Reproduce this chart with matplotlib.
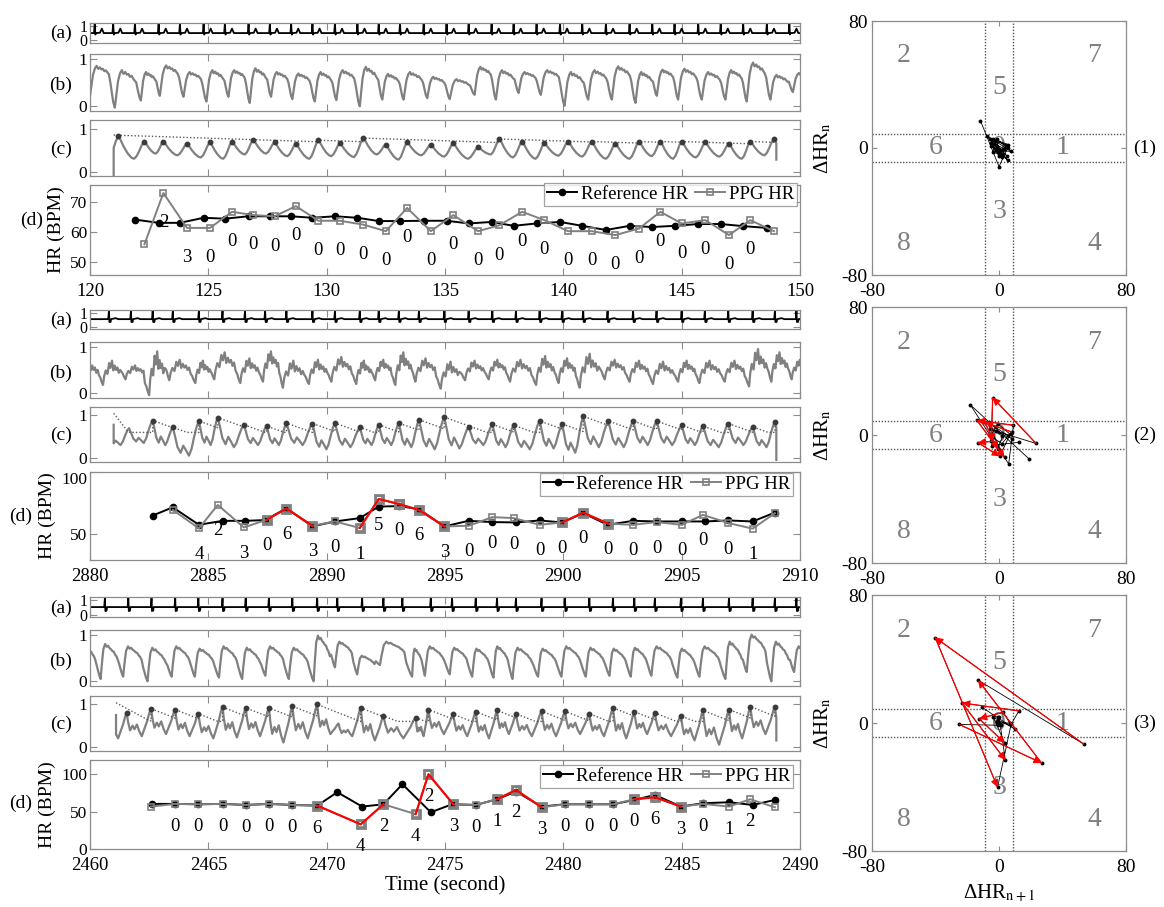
import numpy as np
import matplotlib
matplotlib.use('Agg')
import matplotlib.pyplot as plt

W, H = 1164, 907
GRAY = '#808080'
EDGE = '#8c8c8c'

plt.rcParams['font.family'] = ['Liberation Serif', 'DejaVu Serif']
plt.rcParams['mathtext.fontset'] = 'stix'
plt.rcParams['axes.unicode_minus'] = False

# ---------------- segment 1 (120-150 s) ----------------
g1_ref_t = [121.9, 122.9, 123.8, 124.8, 125.7, 126.7, 127.6, 128.5, 129.4, 130.35,
            131.3, 132.2, 133.1, 134.1, 135.07, 136.0, 136.97, 137.9, 138.87, 139.86,
            140.8, 141.8, 142.8, 143.76, 144.7, 145.7, 146.65, 147.6, 148.6]
g1_ref_hr = [64.1, 63.0, 63.0, 64.7, 64.4, 65.2, 65.2, 65.2, 64.7, 65.2,
             64.7, 63.6, 63.6, 63.7, 63.7, 62.8, 63.3, 62.0, 62.8, 63.3,
             62.0, 60.6, 62.0, 61.6, 62.0, 62.6, 62.6, 61.9, 61.3]
g1_ppg_t = [122.3, 123.1, 124.1, 125.07, 126.0, 126.9, 127.8, 128.7, 129.65, 130.56,
            131.55, 132.5, 133.4, 134.4, 135.35, 136.4, 137.3, 138.26, 139.2, 140.2,
            141.2, 142.2, 143.2, 144.1, 145.0, 146.0, 147.0, 147.9, 148.9]
g1_ppg_hr = [55.8, 73.0, 61.3, 61.3, 66.7, 65.6, 65.2, 68.6, 63.7, 63.7,
             62.4, 60.2, 68.0, 60.2, 65.6, 60.2, 62.2, 66.7, 63.9, 60.2,
             60.2, 58.9, 61.1, 66.7, 62.8, 63.9, 58.9, 63.9, 60.2]
g1_labels = '230000000000000000000000000'
g1_red = []
g1_ecg_extra = [120.2, 120.98, 149.55]
# filtered PPG peaks: first detected peak, then one per PPG HR sample
g1_pk_first = (121.2, 0.82)
g1_pk_v = [0.70, 0.70, 0.65, 0.68, 0.70, 0.74, 0.68, 0.65, 0.73, 0.66,
           0.78, 0.63, 0.68, 0.63, 0.66, 0.57, 0.76, 0.70, 0.66, 0.70,
           0.70, 0.65, 0.70, 0.70, 0.70, 0.68, 0.65, 0.70, 0.76]
g1_pk_extra_t = [120.15, 149.85]
g1_pk_extra_v = [0.70, 0.70]
g1_c_lo = [0.30, 0.30, 0.42, 0.38, 0.33, 0.30, 0.40, 0.42, 0.36, 0.30, 0.36,
           0.34, 0.40, 0.28, 0.38, 0.35, 0.30, 0.40, 0.33, 0.30, 0.37, 0.35,
           0.30, 0.30, 0.36, 0.30, 0.33, 0.35, 0.30, 0.38, 0.30]
g1_b_lo = [0.22, -0.03, 0.12, 0.22, 0.20, 0.10, 0.20, 0.07, 0.20, 0.15, 0.10,
           0.13, 0.00, 0.14, 0.14, 0.17, 0.15, 0.24, 0.14, 0.28, 0.24, 0.01,
           0.14, 0.14, 0.07, 0.22, 0.14, 0.14, 0.14, 0.10, 0.14, 0.30]
g1_b_hi = [0.85, 0.76, 0.72, 0.86, 0.72, 0.76, 0.76, 0.80, 0.72, 0.69, 0.72,
           0.76, 0.83, 0.68, 0.72, 0.62, 0.57, 0.83, 0.76, 0.72, 0.76, 0.72,
           0.76, 0.84, 0.72, 0.77, 0.79, 0.72, 0.76, 0.92, 0.66, 0.70]

# ---------------- segment 2 (2880-2910 s) ----------------
g2_ref_t = [2882.65, 2883.5, 2884.6, 2885.6, 2886.55, 2887.4, 2888.3, 2889.4, 2890.35, 2891.4,
            2892.2, 2893.05, 2893.9, 2894.97, 2896.0, 2897.0, 2898.0, 2899.0, 2899.95, 2900.84,
            2901.87, 2902.95, 2903.94, 2905.0, 2905.98, 2906.97, 2908.0, 2908.94]
g2_ref_hr = [64.9, 71.5, 57.4, 60.6, 60.6, 61.2, 70.7, 56.1, 60.1, 62.8,
             72.1, 72.5, 70.0, 56.1, 60.6, 59.6, 59.3, 60.9, 59.3, 66.8,
             57.4, 60.6, 60.1, 60.1, 60.1, 60.9, 60.1, 67.3]
g2_ppg_t = [2883.5, 2884.6, 2885.4, 2886.5, 2887.46, 2888.3, 2889.4, 2890.35, 2891.4, 2892.2,
            2893.05, 2893.9, 2894.97, 2896.0, 2897.0, 2897.9, 2899.0, 2899.95, 2900.84, 2901.9,
            2902.95, 2903.94, 2905.0, 2905.9, 2906.97, 2908.0, 2908.94]
g2_ppg_hr = [69.4, 54.5, 73.4, 55.3, 61.4, 70.5, 56.6, 60.1, 54.8, 78.2,
             74.2, 69.4, 56.1, 56.6, 63.6, 62.8, 57.4, 59.3, 67.2, 58.3,
             57.4, 59.6, 57.4, 65.4, 58.8, 54.3, 66.8]
g2_labels = '4230630150630000000000001'
g2_red = [5, 9, 11, 18]
g2_ecg_extra = [2880.8, 2881.73, 2909.85]
g2_pk_first = (2882.65, 0.88)
g2_pk_v = [0.72, 0.87, 0.95, 0.78, 0.75, 0.82, 0.81, 0.82, 0.72, 0.78,
           0.82, 0.90, 0.96, 0.73, 0.79, 0.77, 0.87, 0.80, 0.98, 0.87,
           0.87, 0.87, 0.77, 0.75, 0.81, 0.73, 0.85]
g2_pk_extra_t = [2880.7, 2881.65, 2909.8]
g2_pk_extra_v = [0.60, 0.70, 0.70]
g2_c_lo = [0.30, 0.35, 0.30, 0.05, 0.30, 0.25, 0.30, 0.30, 0.30, 0.20,
           0.25, 0.30, 0.30, 0.25, 0.20, 0.22, 0.30, 0.25, 0.20, 0.22,
           0.12, 0.25, 0.25, 0.30, 0.30, 0.30, 0.25, 0.30, 0.25, 0.30]
g2_b_lo = [0.18, 0.30, -0.04, 0.28, 0.22, 0.30, 0.22, 0.25, 0.12, 0.20, 0.25,
           0.20, 0.28, 0.18, 0.25, 0.10, 0.28, 0.30, 0.25, 0.18, 0.22, 0.12,
           0.30, 0.25, 0.20, 0.25, 0.22, 0.25, 0.15, 0.25, 0.30]
g2_b_hi = [0.70, 0.60, 0.90, 0.72, 0.70, 0.88, 0.75, 0.90, 0.70, 0.72, 0.78,
           0.70, 0.72, 0.88, 0.75, 0.68, 0.70, 0.72, 0.72, 0.80, 0.75, 0.85,
           0.72, 0.70, 0.68, 0.70, 0.70, 0.70, 0.95, 0.88, 0.72]

# ---------------- segment 3 (2460-2490 s) ----------------
g3_ref_t = [2462.6, 2463.6, 2464.58, 2465.6, 2466.58, 2467.56, 2468.55, 2469.6, 2470.45, 2471.5,
            2472.4, 2473.2, 2474.4, 2475.3, 2476.3, 2477.2, 2478.0, 2479.08, 2480.07, 2481.1,
            2482.1, 2483.0, 2483.87, 2484.97, 2485.9, 2487.0, 2488.0, 2488.94]
g3_ref_hr = [60.3, 60.3, 59.8, 60.3, 58.9, 60.3, 58.9, 58.0, 75.9, 56.7,
             59.8, 86.6, 49.1, 59.8, 58.9, 66.5, 76.8, 56.7, 59.8, 59.8,
             59.8, 65.6, 72.3, 56.7, 61.2, 62.5, 58.9, 65.6]
g3_ppg_t = [2462.58, 2463.6, 2464.58, 2465.6, 2466.58, 2467.56, 2468.55, 2469.6, 2471.44, 2472.4,
            2473.76, 2474.3, 2475.35, 2476.3, 2477.2, 2478.0, 2479.08, 2480.07, 2481.1, 2482.1,
            2483.0, 2483.87, 2484.97, 2485.9, 2487.0, 2487.9, 2488.94]
g3_ppg_hr = [56.7, 60.3, 59.8, 60.3, 58.9, 60.3, 58.9, 58.0, 33.0, 59.8,
             46.6, 100.0, 59.8, 58.9, 66.5, 79.0, 55.8, 59.8, 59.8, 59.8,
             66.5, 69.2, 56.7, 60.3, 56.7, 66.5, 55.8]
g3_labels = '0000006424230123000063012'
g3_red = [8, 11, 15, 21]
g3_ecg_extra = [2460.63, 2461.62, 2489.85]
g3_pk_first = (2461.55, 0.80)
g3_pk_v = [0.90, 0.88, 0.78, 0.94, 0.92, 0.92, 0.96, 1.00, 0.92, 0.73,
           0.69, 0.88, 0.77, 0.83, 0.86, 0.78, 0.84, 0.84, 0.78, 0.92,
           0.83, 0.80, 0.73, 0.86, 0.88, 0.95, 0.94]
g3_pk_extra_t = [2460.6, 2470.5, 2489.9]
g3_pk_extra_v = [0.70, 0.55, 0.70]
g3_c_lo = [0.20, 0.25, 0.30, 0.25, 0.20, 0.22, 0.25, 0.10, 0.20, 0.30,
           0.25, 0.15, 0.20, 0.25, 0.30, 0.25, 0.20, 0.30, 0.25, 0.25,
           0.30, 0.25, 0.20, 0.30, 0.25, 0.15, 0.05, 0.20, 0.30, 0.30]
g3_b_lo = [0.05, 0.10, 0.00, 0.10, 0.10, 0.08, 0.05, 0.12, 0.05, 0.00, 0.30,
           0.15, 0.35, 0.10, 0.12, 0.15, 0.10, 0.08, 0.05, 0.10, 0.10, 0.10,
           0.12, 0.10, 0.12, 0.08, 0.10, 0.05, 0.20, 0.00, 0.20]
g3_b_hi = [0.80, 0.75, 0.72, 0.75, 0.70, 0.75, 0.72, 0.75, 0.72, 0.98, 0.85,
           0.55, 0.85, 0.70, 0.75, 0.72, 0.70, 0.75, 0.72, 0.70, 0.75, 0.72,
           0.70, 0.72, 0.75, 0.70, 0.75, 0.85, 1.00, 0.85, 0.75]

# beat shapes (seconds from R peak / fraction of beat)
g1_ecg_dt = [-0.03, 0.0, 0.025, 0.06, 0.22, 0.30, 0.38]
g1_ecg_v = [0.50, 1.15, 0.40, 0.50, 0.52, 0.80, 0.50]
g2_ecg_dt = [-0.03, 0.0, 0.02, 0.07, 0.09, 0.28, 0.40]
g2_ecg_v = [0.55, 1.15, 0.35, 0.35, 0.55, 0.62, 0.55]
g3_ecg_dt = [-0.03, 0.0, 0.02, 0.07, 0.09]
g3_ecg_v = [0.52, 1.12, 0.25, 0.28, 0.52]

b_phase = [0, 0.05, 0.12, 0.2, 0.27, 0.33, 0.4, 0.46, 0.52, 0.58, 0.64, 0.7, 0.76, 0.82, 0.88, 0.94]
g1_b_shape = [0, 0.3, 0.7, 0.92, 1.0, 0.9, 0.95, 0.88, 0.9, 0.82, 0.85, 0.78, 0.72, 0.6, 0.35, 0.12]
g2_b_shape = [0, 0.35, 0.6, 0.45, 0.9, 0.7, 1.0, 0.6, 0.8, 0.62, 0.72, 0.5, 0.62, 0.4, 0.3, 0.12]
g3_b_shape = [0, 0.4, 0.85, 1.0, 0.92, 0.95, 0.88, 0.85, 0.8, 0.78, 0.7, 0.65, 0.55, 0.4, 0.25, 0.1]

g1_c_phase = [0, 0.08, 0.2, 0.35, 0.5, 0.6, 0.7, 0.8, 0.9]
g1_c_shape = [1, 0.85, 0.55, 0.25, 0.05, 0, 0.15, 0.45, 0.8]
g2_c_phase = [0, 0.08, 0.18, 0.3, 0.4, 0.5, 0.62, 0.72, 0.82, 0.92]
g2_c_shape = [1, 0.7, 0.3, 0.1, 0.35, 0.2, 0, 0.2, 0.55, 0.85]
g3_c_phase = [0, 0.06, 0.14, 0.24, 0.32, 0.42, 0.52, 0.62, 0.72, 0.84, 0.93]
g3_c_shape = [1, 0.6, 0.25, 0.45, 0.3, 0.5, 0.2, 0, 0.25, 0.55, 0.85]

REGION_POS = {'2': (-60, 58), '7': (60, 58), '5': (0, 38), '6': (-40, 0), '0': (0, 0),
              '1': (40, 0), '3': (0, -40), '8': (-60, -60), '4': (60, -60)}
THR = 9


def rect(x0, y0, x1, y1):
    return [x0 / W, 1 - y1 / H, (x1 - x0) / W, (y1 - y0) / H]


def style(ax, xlim, ylim, yticks, xlabels=False, ysize=12.5):
    ax.set_xlim(xlim)
    ax.set_ylim(ylim)
    ax.set_xticks(np.arange(xlim[0], xlim[1] + 1, 5))
    ax.set_yticks(yticks)
    for s in ax.spines.values():
        s.set_color(EDGE)
        s.set_linewidth(0.9)
    ax.tick_params(direction='in', top=True, right=True, length=5, width=0.8,
                   color=EDGE, labelsize=13.5, labelcolor='black')
    ax.tick_params(axis='y', pad=2, labelsize=ysize)
    ax.tick_params(axis='x', pad=6)
    if not xlabels:
        ax.set_xticklabels([])


def ecg_trace(beats, dt, v, xlim):
    t, y = [xlim[0]], [v[0]]
    for b in sorted(beats):
        t += [b + d for d in dt]
        y += list(v)
    t.append(xlim[1])
    y.append(v[-1])
    return t, y


def raw_ppg(troughs, lo, hi, phase, shape, split=0.8):
    tt = [troughs[0] - (troughs[1] - troughs[0])] + list(troughs) + \
         [troughs[-1] + (troughs[-1] - troughs[-2])]
    lo = [lo[0]] + list(lo) + [lo[-1]]
    hi = [hi[0]] + list(hi) + [hi[-1]]
    t, y = [], []
    for k in range(len(tt) - 1):
        for ph, s in zip(phase, shape):
            base = lo[k] if ph < split else lo[k + 1]
            t.append(tt[k] + ph * (tt[k + 1] - tt[k]))
            y.append(base + (hi[k] - base) * s)
    return np.array(t), np.array(y)


def filt_ppg(pk_t, pk_v, lo, phase, shape, split):
    t, y = [], []
    for k in range(len(pk_t) - 1):
        for ph, s in zip(phase, shape):
            top = pk_v[k] if ph < split else pk_v[k + 1]
            t.append(pk_t[k] + ph * (pk_t[k + 1] - pk_t[k]))
            y.append(lo[k] + (top - lo[k]) * s)
    t.append(pk_t[-1])
    y.append(pk_v[-1])
    return np.array(t), np.array(y)


def envelope(init, pk_t, pk_v, t_end, rate, floor):
    # adaptive peak threshold: jumps to a new peak, then decays linearly to a floor
    et = [p[0] for p in init]
    ev = [p[1] for p in init]
    t0, lev = et[-1], ev[-1]

    def level(t):
        return max(lev - rate * (t - t0), floor)

    def corner(upto):
        tf = t0 + (lev - floor) / rate
        if et[-1] < tf < upto:
            et.append(tf)
            ev.append(floor)

    for tp, vp in zip(pk_t, pk_v):
        if tp <= t0:
            continue
        corner(tp)
        cur = level(tp)
        if vp > cur:
            et += [tp, tp]
            ev += [cur, vp]
            t0, lev = tp, vp
    corner(t_end)
    et.append(t_end)
    ev.append(level(t_end))
    return et, ev


def draw_group(fig, g):
    xlim = g['xlim']
    (ya, yb, yc, yd) = g['rows']

    # (a) ECG
    ax = fig.add_axes(rect(90, ya[0], 800, ya[1]))
    t, y = ecg_trace(g['ref_t'] + g['ecg_extra'], g['ecg_dt'], g['ecg_v'], xlim)
    ax.plot(t, y, color='k', lw=1.3)
    style(ax, xlim, (-0.15, 1.2), [0, 1], ysize=11.5)

    # (b) raw PPG
    pk = sorted(zip([g['pk_first'][0]] + g['ppg_t'] + g['pk_extra_t'],
                    [g['pk_first'][1]] + g['pk_v'] + g['pk_extra_v']))
    pk_t = [p[0] for p in pk]
    pk_v = [p[1] for p in pk]
    ax = fig.add_axes(rect(90, yb[0], 800, yb[1]))
    t, y = raw_ppg([p - 0.15 for p in pk_t], g['b_lo'], g['b_hi'], b_phase, g['b_shape'])
    ax.plot(t, y, color=GRAY, lw=1.6)
    style(ax, xlim, (-0.1, 1.1), [0, 1])

    # (c) filtered PPG with detected peaks and threshold
    ax = fig.add_axes(rect(90, yc[0], 800, yc[1]))
    t, y = filt_ppg(pk_t, pk_v, g['c_lo'], g['c_phase'], g['c_shape'], g['c_split'])
    c0, c1 = g['c_span']
    keep = (t > c0) & (t < c1)
    ct = np.concatenate([[c0, c0], t[keep], [c1, c1]])
    cv = np.concatenate([[g['c_ends'][0], np.interp(c0, t, y)], y[keep],
                         [np.interp(c1, t, y), g['c_ends'][1]]])
    ax.plot(ct, cv, color=GRAY, lw=1.6)
    det_t = [g['pk_first'][0]] + g['ppg_t']
    det_v = [g['pk_first'][1]] + g['pk_v']
    et, ev = envelope(g['env_init'], det_t, det_v, c1, g['env_rate'], g['env_floor'])
    ax.plot(et, ev, color='#5a5a5a', lw=1.0, ls=(0, (1, 1.5)))
    ax.plot(det_t, det_v, 'o', color='#3a3a3a', ms=3.2, zorder=5)
    style(ax, xlim, (-0.1, 1.2), [0, 1])

    # (d) heart rate
    ax = fig.add_axes(rect(90, yd[0], 800, yd[1]))
    ppg_t = np.array(g['ppg_t'])
    ppg_hr = np.array(g['ppg_hr'])
    ax.plot(g['ref_t'], g['ref_hr'], '-o', color='k', lw=1.4, ms=4.5, label='Reference HR', zorder=3)
    ax.plot(ppg_t, ppg_hr, '-s', color=GRAY, mfc='none', mec=GRAY, lw=1.4, ms=4.8, mew=1.2,
            label='PPG HR', zorder=4)
    for c in g['red']:
        ax.plot(ppg_t[c - 1:c + 2], ppg_hr[c - 1:c + 2], 's', ms=6, mfc='none', mec=GRAY,
                mew=2.0, zorder=5)
        ax.plot(ppg_t[c - 1:c + 2], ppg_hr[c - 1:c + 2], color='red', lw=1.5, zorder=6)
    for i, d in enumerate(g['labels'], start=1):
        ax.text(ppg_t[i], ppg_hr[i] - g['lab_off'], d, ha='center', va='center', fontsize=13.5)
    style(ax, xlim, g['hr_ylim'], g['hr_ticks'], xlabels=True)
    if g['hr_ticks'][-1] == g['hr_ylim'][1]:
        ax.get_yticklabels()[-1].set_va('top')
    leg = ax.legend(loc='upper right', bbox_to_anchor=g['leg_anchor'], ncol=2, fontsize=13.5,
                    frameon=True, fancybox=False, edgecolor=EDGE, borderpad=0.15,
                    handlelength=1.6, handletextpad=0.2, columnspacing=0.4, borderaxespad=0)
    leg.get_frame().set_linewidth(0.9)

    # panel letters
    for lab, (r0, r1), dy in zip(['(a)', '(b)', '(c)'], [ya, yb, yc], [1, 3, 1]):
        fig.text(61 / W, 1 - ((r0 + r1) / 2 + dy) / H, lab, ha='center', va='center', fontsize=14)
    fig.text(g['d_lab_x'] / W, 1 - g['d_lab_y'] / H, '(d)', ha='center', va='center', fontsize=14)
    fig.text(g['hr_lab_x'] / W, 1 - (yd[0] + yd[1]) / 2 / H, 'HR (BPM)', rotation=90,
             ha='center', va='center', fontsize=14)

    # right: Poincare-type plot of successive HR changes
    r0, r1 = g['right']
    ax = fig.add_axes(rect(872, r0, 1126, r1))
    for k, (x, y) in REGION_POS.items():
        ax.text(x, y, k, color=GRAY, fontsize=20, ha='center', va='center', zorder=1)
    for v in (-THR, THR):
        ax.axvline(v, color='#555555', lw=1.0, ls=(0, (1, 1.2)), zorder=2)
        ax.axhline(v, color='#555555', lw=1.0, ls=(0, (1, 1.2)), zorder=2)
    dh = np.diff(ppg_hr)
    px, py = dh[1:], dh[:-1]
    ax.plot(px, py, '-', color='k', lw=0.6, marker='o', ms=1.8, zorder=3)
    for c in g['red']:
        for a, b in ((c - 1, c), (c, c + 1)):
            ax.annotate('', xy=(px[b - 1], py[b - 1]), xytext=(px[a - 1], py[a - 1]),
                        arrowprops=dict(arrowstyle='-|>', color='red', lw=0.9,
                                        mutation_scale=11, shrinkA=0, shrinkB=0), zorder=4)
    ax.set_xlim(-80, 80)
    ax.set_ylim(-80, 80)
    ax.set_xticks([-80, 0, 80])
    ax.set_yticks([-80, 0, 80])
    for s in ax.spines.values():
        s.set_color(EDGE)
        s.set_linewidth(0.9)
    ax.tick_params(direction='in', top=True, right=True, length=3.5, width=0.8,
                   color=EDGE, labelsize=14)
    ax.tick_params(axis='x', pad=6)
    ax.tick_params(axis='y', pad=3)
    ax.set_ylabel('ΔHR$_{\\mathrm{n}}$', fontsize=15, labelpad=6)
    fig.text(1145 / W, 1 - (r0 + r1) / 2 / H, g['tag'], ha='center', va='center', fontsize=14)


def main():
    fig = plt.figure(figsize=(W / 100, H / 100), dpi=100)
    groups = [
        dict(xlim=(120, 150), ref_t=g1_ref_t, ref_hr=g1_ref_hr, ppg_t=g1_ppg_t, ppg_hr=g1_ppg_hr,
             labels=g1_labels, red=g1_red, ecg_extra=g1_ecg_extra, ecg_dt=g1_ecg_dt, ecg_v=g1_ecg_v,
             pk_first=g1_pk_first, pk_v=g1_pk_v, pk_extra_t=g1_pk_extra_t, pk_extra_v=g1_pk_extra_v,
             c_lo=g1_c_lo, b_lo=g1_b_lo, b_hi=g1_b_hi, b_shape=g1_b_shape,
             c_phase=g1_c_phase, c_shape=g1_c_shape, c_split=0.6,
             c_span=(121.0, 149.0), c_ends=(-0.08, 0.28),
             env_init=[(121.0, 0.85)], env_rate=0.018, env_floor=0.3,
             hr_ylim=(45.5, 75.7), hr_ticks=[50, 60, 70], lab_off=10, leg_anchor=(0.996, 1.025),
             rows=((22.7, 42.7), (54, 111), (120, 176), (185, 275)), d_lab_x=32, d_lab_y=220,
             hr_lab_x=56, right=(21, 275), tag='(1)'),
        dict(xlim=(2880, 2910), ref_t=g2_ref_t, ref_hr=g2_ref_hr, ppg_t=g2_ppg_t, ppg_hr=g2_ppg_hr,
             labels=g2_labels, red=g2_red, ecg_extra=g2_ecg_extra, ecg_dt=g2_ecg_dt, ecg_v=g2_ecg_v,
             pk_first=g2_pk_first, pk_v=g2_pk_v, pk_extra_t=g2_pk_extra_t, pk_extra_v=g2_pk_extra_v,
             c_lo=g2_c_lo, b_lo=g2_b_lo, b_hi=g2_b_hi, b_shape=g2_b_shape,
             c_phase=g2_c_phase, c_shape=g2_c_shape, c_split=0.62,
             c_span=(2881.0, 2909.0), c_ends=(0.78, -0.05),
             env_init=[(2881.0, 1.05), (2881.6, 0.62)], env_rate=0.2, env_floor=0.6,
             hr_ylim=(29, 100), hr_ticks=[50, 100], lab_off=21, leg_anchor=(0.99, 0.99),
             rows=((310, 329), (342, 398), (407, 462), (472, 560)), d_lab_x=21, d_lab_y=516,
             hr_lab_x=47, right=(307, 563), tag='(2)'),
        dict(xlim=(2460, 2490), ref_t=g3_ref_t, ref_hr=g3_ref_hr, ppg_t=g3_ppg_t, ppg_hr=g3_ppg_hr,
             labels=g3_labels, red=g3_red, ecg_extra=g3_ecg_extra, ecg_dt=g3_ecg_dt, ecg_v=g3_ecg_v,
             pk_first=g3_pk_first, pk_v=g3_pk_v, pk_extra_t=g3_pk_extra_t, pk_extra_v=g3_pk_extra_v,
             c_lo=g3_c_lo, b_lo=g3_b_lo, b_hi=g3_b_hi, b_shape=g3_b_shape,
             c_phase=g3_c_phase, c_shape=g3_c_shape, c_split=0.62,
             c_span=(2461.1, 2489.0), c_ends=(0.75, 0.15),
             env_init=[(2461.1, 1.04), (2462.4, 0.65)], env_rate=0.22, env_floor=0.6,
             hr_ylim=(0, 119), hr_ticks=[0, 50, 100], lab_off=30, leg_anchor=(0.99, 0.945),
             rows=((597, 617), (630, 686), (696, 751), (760, 849)), d_lab_x=21, d_lab_y=803,
             hr_lab_x=47, right=(595, 851), tag='(3)'),
    ]
    for g in groups:
        draw_group(fig, g)

    fig.text(445 / W, 1 - 886 / H, 'Time (second)', ha='center', va='center', fontsize=15)
    fig.text(999 / W, 1 - 893 / H, 'ΔHR$_{\\mathrm{n+1}}$', ha='center', va='center', fontsize=15)
    fig.savefig('out.png', dpi=100)


if __name__ == '__main__':
    main()
